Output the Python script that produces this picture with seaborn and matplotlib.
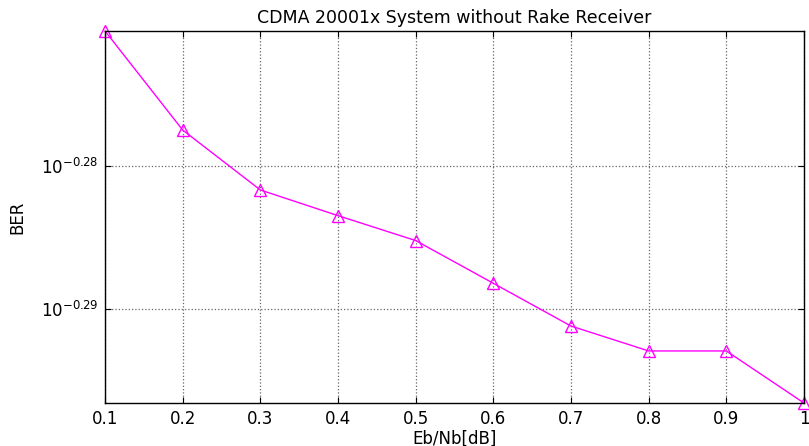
import matplotlib
matplotlib.use("Agg")
import matplotlib.pyplot as plt
import seaborn as sns
import numpy as np
import pandas as pd

ebnb = [0.1, 0.2, 0.3, 0.4, 0.5, 0.6, 0.7, 0.8, 0.9, 1.0]
ber = [0.53636, 0.52786, 0.52278, 0.52062, 0.51853, 0.51497, 0.51143, 0.50938, 0.50938, 0.50512]
xticks = [0.1, 0.2, 0.3, 0.4, 0.5, 0.6, 0.7, 0.8, 0.9, 1.0]
xticklabels = ["0.1", "0.2", "0.3", "0.4", "0.5", "0.6", "0.7", "0.8", "0.9", "1"]
yexps = [-0.29, -0.28]
yticklabels = [r"$10^{-0.29}$", r"$10^{-0.28}$"]

sns.set_theme(style="white")
plt.rcParams["font.family"] = ["DejaVu Sans"]
plt.rcParams["mathtext.fontset"] = "dejavusans"
plt.rcParams["text.color"] = "black"
plt.rcParams["axes.labelcolor"] = "black"

fig = plt.figure(figsize=(8.09, 4.46), dpi=100)
ax = fig.add_axes([0.1298, 0.0964, 0.8640, 0.8341])

df = pd.DataFrame({"x": ebnb, "y": ber})
sns.lineplot(data=df, x="x", y="y", ax=ax, color="magenta", linewidth=1.0,
             marker="^", markersize=9, markerfacecolor="none",
             markeredgecolor="magenta", markeredgewidth=1.0)

ax.set_yscale("log")
ax.set_xlim(0.1, 1.0)
ax.set_ylim(min(ber), max(ber))
ax.set_xticks(xticks)
ax.set_xticklabels(xticklabels, fontsize=12)
ax.set_yticks([10 ** e for e in yexps])
ax.set_yticklabels(yticklabels, fontsize=12)
ax.yaxis.set_minor_locator(matplotlib.ticker.NullLocator())
ax.tick_params(direction="in", length=4, width=0.8, top=True, right=True,
               bottom=True, left=True, colors="black", labelcolor="black", pad=5)
ax.grid(True, which="major", color="0.4", linestyle=":", linewidth=0.9)
for s in ax.spines.values():
    s.set_color("black")
    s.set_linewidth(1.0)
for l in ax.lines:
    l.set_clip_on(False)

ax.set_title("CDMA 20001x System without Rake Receiver", fontsize=12.5, pad=6, color="black")
ax.set_xlabel("Eb/Nb[dB]", fontsize=12, labelpad=1)
ax.set_ylabel("BER", fontsize=12, labelpad=10)

fig.savefig("out.png", dpi=100)
